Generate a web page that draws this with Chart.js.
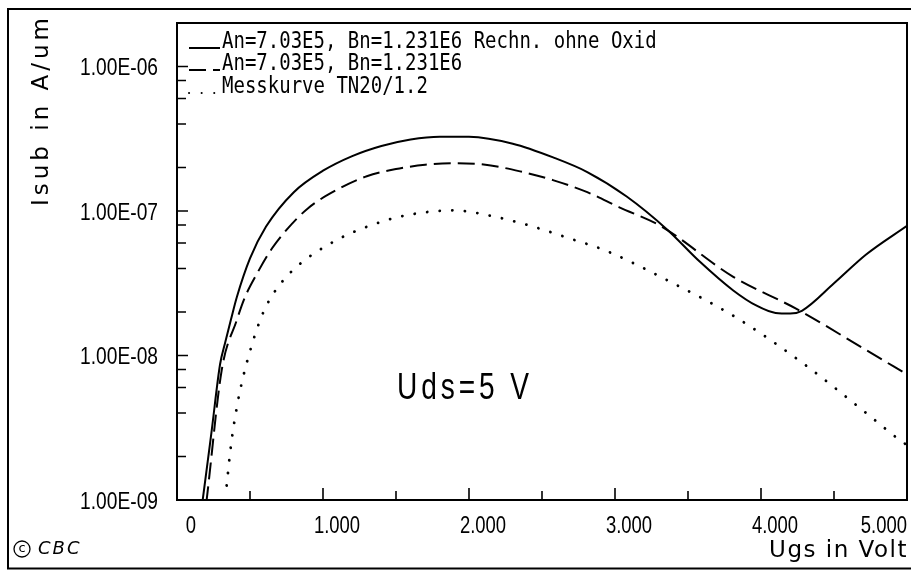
<!DOCTYPE html>
<html lang="de">
<head>
<meta charset="UTF-8" />
<title>Isub over Ugs</title>
<style>
  body { margin: 0; background: #fff; }
  #wrap { width: 911px; height: 571px; }
</style>
</head>
<body>
<div id="wrap"><canvas id="chart" width="911" height="571"></canvas></div>
<script src="https://cdn.jsdelivr.net/npm/chart.js"></script>
<script>
// values (Ugs in V, Isub in A/um)
const solidUgs = [0.15, 0.176, 0.238, 0.295, 0.33, 0.37, 0.41, 0.50, 0.61, 0.80, 1.00, 1.20, 1.40, 1.60, 1.80, 2.00, 2.30, 2.58, 2.81, 3.08, 3.36, 3.58, 3.81, 3.97, 4.10, 4.20, 4.28, 4.50, 4.72, 5.00];
const solidIsub = [6.5e-10, 1.0e-9, 3.05e-9, 8.7e-9, 1.23e-8, 1.78e-8, 2.54e-8, 4.7e-8, 7.8e-8, 1.35e-7, 1.9e-7, 2.4e-7, 2.82e-7, 3.13e-7, 3.27e-7, 3.26e-7, 2.92e-7, 2.34e-7, 1.86e-7, 1.26e-7, 7.4e-8, 4.47e-8, 2.82e-8, 2.21e-8, 1.97e-8, 1.95e-8, 2.04e-8, 3.16e-8, 5.0e-8, 7.9e-8];

const dashUgs = [0.18, 0.203, 0.306, 0.409, 0.466, 0.55, 0.65, 0.75, 0.90, 1.10, 1.30, 1.50, 1.70, 1.90, 2.10, 2.35, 2.58, 2.81, 3.03, 3.31, 3.81, 4.24, 4.72, 5.00];
const dashIsub = [6.5e-10, 1.0e-9, 7.9e-9, 1.75e-8, 2.54e-8, 3.72e-8, 5.5e-8, 7.4e-8, 1.05e-7, 1.41e-7, 1.74e-7, 1.95e-7, 2.09e-7, 2.14e-7, 2.1e-7, 1.88e-7, 1.63e-7, 1.35e-7, 1.06e-7, 7.9e-8, 3.5e-8, 2.11e-8, 1.09e-8, 7.4e-9];

const dotUgs = [0.34, 0.37, 0.41, 0.45, 0.50, 0.55, 0.61, 0.72, 0.85, 1.00, 1.16, 1.32, 1.50, 1.70, 1.90, 2.14, 2.42, 2.68, 2.94, 3.35, 3.83, 4.29, 4.72, 4.95, 5.00];
const dotIsub = [1.26e-9, 2.4e-9, 4.4e-9, 6.9e-9, 1.07e-8, 1.55e-8, 2.19e-8, 3.24e-8, 4.37e-8, 5.56e-8, 6.8e-8, 7.9e-8, 9.0e-8, 9.8e-8, 1.01e-7, 9.3e-8, 7.9e-8, 6.5e-8, 5.3e-8, 3.35e-8, 1.83e-8, 8.8e-9, 4.0e-9, 2.6e-9, 2.4e-9];

const legendLabels = ['An=7.03E5, Bn=1.231E6 Rechn. ohne Oxid', 'An=7.03E5, Bn=1.231E6', 'Messkurve TN20/1.2'];

const xTickValues = [0.5, 1, 1.5, 2, 2.5, 3, 3.5, 4, 4.5];
const xLabelValues = [0, 1, 2, 3, 4, 5];
const xTickLabels = ['0', '1.000', '2.000', '3.000', '4.000', '5.000'];

const yTickValues = [1e-9, 2e-9, 4e-9, 6e-9, 8e-9, 1e-8, 2e-8, 4e-8, 6e-8, 8e-8, 1e-7, 2e-7, 4e-7, 6e-7, 8e-7, 1e-6, 2e-6];
const yTickLabels = ['1.00E-09', '', '', '', '', '1.00E-08', '', '', '', '', '1.00E-07', '', '', '', '', '1.00E-06', ''];

const sans = "'Liberation Sans', Arimo, sans-serif";

function pts(xs, ys) {
  return xs.map((x, i) => ({ x: x, y: ys[i] }));
}

// narrow plotter-like text: squeeze horizontally
function narrowText(ctx, text, x, y, size, align, squeeze, spacing) {
  ctx.save();
  ctx.translate(x, y);
  ctx.scale(squeeze, 1);
  ctx.font = size + 'px ' + sans;
  ctx.letterSpacing = (spacing || 0) + 'px';
  ctx.textAlign = align;
  ctx.fillText(text, 0, 0);
  ctx.restore();
}

const decor = {
  id: 'decor',
  afterDraw(chart) {
    const ctx = chart.ctx;
    const a = chart.chartArea;
    const xs = chart.scales.x;
    const ys = chart.scales.y;
    ctx.save();
    ctx.strokeStyle = '#000';
    ctx.fillStyle = '#000';

    // outer frame (right edge lies outside the picture)
    ctx.lineWidth = 2;
    ctx.beginPath();
    ctx.moveTo(912, 9); ctx.lineTo(8, 9); ctx.lineTo(8, 568.5); ctx.lineTo(912, 568.5);
    ctx.stroke();

    // plot box
    ctx.strokeRect(a.left, a.top, a.right - a.left, a.bottom - a.top);

    // inward ticks
    ctx.lineWidth = 1.6;
    ctx.beginPath();
    ys.ticks.forEach((t, i) => {
      const y = ys.getPixelForValue(t.value);
      const len = yTickLabels[i] ? 11 : 9;
      ctx.moveTo(a.left, y); ctx.lineTo(a.left + len, y);
    });
    xTickValues.forEach(v => {
      const x = xs.getPixelForValue(v);
      const len = Number.isInteger(v) ? 12 : 9;
      ctx.moveTo(x, a.bottom); ctx.lineTo(x, a.bottom - len);
    });
    ctx.stroke();

    ctx.textBaseline = 'middle';

    // y tick labels
    ys.ticks.forEach((t, i) => {
      if (!yTickLabels[i]) return;
      narrowText(ctx, yTickLabels[i], 158, ys.getPixelForValue(t.value) + 2, 24, 'right', 0.8);
    });

    // x tick labels
    xLabelValues.forEach((v, i) => {
      const last = i === xLabelValues.length - 1;
      const x = last ? a.right : xs.getPixelForValue(v) + 14;
      narrowText(ctx, xTickLabels[i], x, 526, 24, last ? 'right' : 'center', 0.77);
    });

    // axis titles
    ctx.font = '23px "DejaVu Sans", sans-serif';
    ctx.letterSpacing = '1.5px';
    ctx.textAlign = 'right';
    ctx.textBaseline = 'alphabetic';
    ctx.fillText('Ugs in Volt', a.right + 1, 557);

    ctx.save();
    ctx.translate(48, 110);
    ctx.rotate(-Math.PI / 2);
    ctx.textAlign = 'center';
    ctx.letterSpacing = '4px';
    ctx.fillText('Isub in A/um', 0, 0);
    ctx.restore();

    // legend
    const ds = chart.data.datasets;
    const base = [48, 70, 93];
    ds.forEach((d, i) => {
      ctx.save();
      ctx.lineWidth = 2;
      ctx.lineCap = d.borderCapStyle || 'butt';
      ctx.setLineDash(d.borderDash || []);
      ctx.beginPath();
      ctx.moveTo(189, base[i]); ctx.lineTo(220, base[i]);
      ctx.stroke();
      ctx.restore();
      ctx.save();
      ctx.translate(222, base[i]);
      ctx.scale(1, 1.25);
      ctx.font = '19px "DejaVu Sans Mono", monospace';
      ctx.letterSpacing = '0px';
      ctx.textAlign = 'left';
      ctx.fillText(legendLabels[i], 0, 0);
      ctx.restore();
    });

    // annotation
    ctx.textBaseline = 'alphabetic';
    narrowText(ctx, 'Uds=5 V', 397, 399, 36, 'left', 0.78, 5);

    // copyright mark
    ctx.letterSpacing = '0px';
    ctx.lineWidth = 1.3;
    ctx.beginPath();
    ctx.arc(22, 549, 8, 0, Math.PI * 2);
    ctx.stroke();
    ctx.font = '13px "DejaVu Sans", sans-serif';
    ctx.textAlign = 'center';
    ctx.textBaseline = 'middle';
    ctx.fillText('c', 22, 549);
    ctx.font = 'italic 18px "DejaVu Sans", sans-serif';
    ctx.letterSpacing = '2px';
    ctx.textAlign = 'left';
    ctx.fillText('CBC', 38, 549);

    ctx.restore();
  }
};

new Chart(document.getElementById('chart'), {
  type: 'line',
  data: {
    datasets: [
      {
        label: legendLabels[0],
        data: pts(solidUgs, solidIsub),
        borderColor: '#000',
        borderWidth: 2,
      },
      {
        label: legendLabels[1],
        data: pts(dashUgs, dashIsub),
        borderColor: '#000',
        borderWidth: 2,
        borderDash: [17, 7],
      },
      {
        label: legendLabels[2],
        data: pts(dotUgs, dotIsub),
        borderColor: '#000',
        borderWidth: 2.8,
        borderDash: [0.1, 12.5],
        borderCapStyle: 'round',
      },
    ],
  },
  options: {
    responsive: false,
    animation: false,
    devicePixelRatio: 1,
    layout: { padding: { top: 23, right: 4, left: 0, bottom: 0 } },
    elements: {
      point: { radius: 0 },
      line: { cubicInterpolationMode: 'monotone', fill: false },
    },
    datasets: { line: { clip: 0 } },
    plugins: { legend: { display: false }, tooltip: { enabled: false } },
    scales: {
      x: {
        type: 'linear',
        min: 0,
        max: 5,
        ticks: { display: false },
        grid: { display: false, drawTicks: false },
        border: { display: false },
        afterFit: (s) => { s.height = 71; },
      },
      y: {
        type: 'logarithmic',
        min: 1e-9,
        max: 2e-6,
        afterBuildTicks: (s) => { s.ticks = yTickValues.map(v => ({ value: v })); },
        ticks: { display: false },
        grid: { display: false, drawTicks: false },
        border: { display: false },
        afterFit: (s) => { s.width = 177; },
      },
    },
  },
  plugins: [decor],
});
</script>
</body>
</html>
